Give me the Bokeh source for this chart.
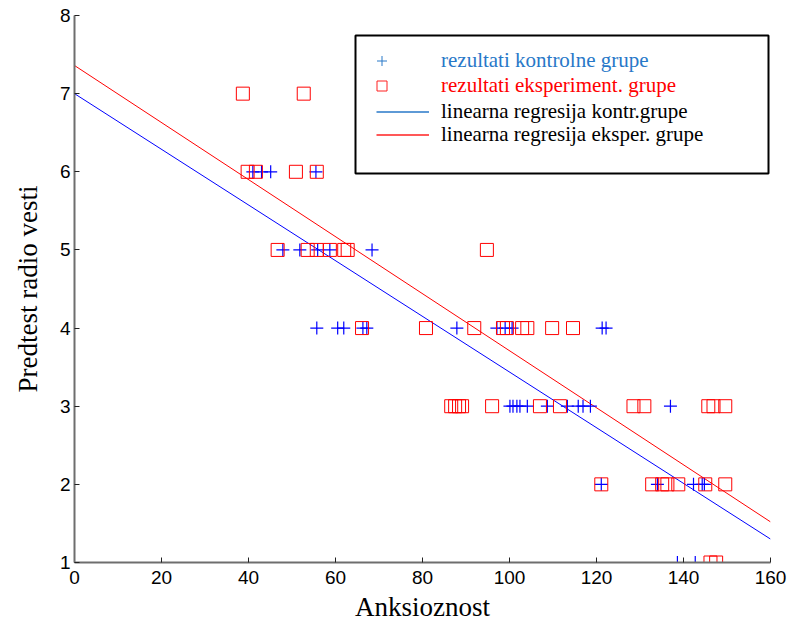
from bokeh.plotting import figure
from bokeh.models import Legend, LegendItem, BoxAnnotation, FixedTicker, Range1d
from bokeh.embed import file_html
from bokeh.resources import INLINE

# ---- data ----
ctrl_x = [41.0, 43.0, 45.1, 55.5,
          47.9, 51.8, 55.9, 58.7, 68.4,
          55.7, 60.5, 61.9, 66.3, 67.2, 87.9, 97.1, 99.0, 100.6, 121.3, 122.2,
          100.1, 100.8, 101.7, 102.4, 104.1, 108.7, 113.3, 115.8, 116.9, 118.6, 137.0,
          121.1, 134.0, 142.3, 144.3, 144.8,
          138.6, 142.7]
ctrl_y = [6, 6, 6, 6,
          5, 5, 5, 5, 5,
          4, 4, 4, 4, 4, 4, 4, 4, 4, 4, 4,
          3, 3, 3, 3, 3, 3, 3, 3, 3, 3, 3,
          2, 2, 2, 2, 2,
          1, 1]

exp_x = [38.7, 52.7,
         39.8, 41.7, 50.9, 55.7,
         46.7, 53.6, 55.7, 58.7, 62.0, 62.8, 94.8,
         66.1, 80.8, 91.9, 98.5, 99.4, 102.9, 104.1, 109.8, 114.6,
         86.6, 87.5, 88.4, 89.1, 96.0, 107.0, 111.6, 128.5, 131.0, 145.7, 146.9, 149.6,
         121.1, 132.8, 135.1, 136.3, 138.8, 145.0, 149.6,
         146.2, 147.5]
exp_y = [7, 7,
         6, 6, 6, 6,
         5, 5, 5, 5, 5, 5, 5,
         4, 4, 4, 4, 4, 4, 4, 4, 4,
         3, 3, 3, 3, 3, 3, 3, 3, 3, 3, 3, 3,
         2, 2, 2, 2, 2, 2, 2,
         1, 1]

reg_x = [0, 160]
reg_ctrl = [7.0, 1.30]
reg_exp = [7.36, 1.52]

x_ticks = [0, 20, 40, 60, 80, 100, 120, 140, 160]
y_ticks = [1, 2, 3, 4, 5, 6, 7, 8]

legend_labels = ["rezultati kontrolne grupe", "rezultati eksperiment. grupe",
                 "linearna regresija kontr.grupe", "linearna regresija eksper. grupe"]

# ---- figure ----
p = figure(width=789, height=624, output_backend="svg", toolbar_location=None,
           x_range=Range1d(0, 160), y_range=Range1d(1, 8),
           min_border_left=74, min_border_right=19, min_border_top=15, min_border_bottom=62,
           background_fill_color="white", border_fill_color="white")
p.outline_line_color = None
p.grid.visible = False

for ax in (p.xaxis[0], p.yaxis[0]):
    ax.axis_line_color = "#6e6e6e"
    ax.axis_line_width = 2
    ax.major_tick_in = 5
    ax.major_tick_out = 0
    ax.major_tick_line_color = "#222222"
    ax.minor_tick_line_color = None
    ax.major_label_text_font = "Liberation Sans"
    ax.major_label_text_font_size = "19px"
    ax.major_label_text_color = "black"
    ax.axis_label_text_font = "Liberation Serif"
    ax.axis_label_text_font_size = "27px"
    ax.axis_label_text_font_style = "normal"
    ax.axis_label_text_color = "black"

p.xaxis.ticker = FixedTicker(ticks=x_ticks)
p.yaxis.ticker = FixedTicker(ticks=y_ticks)
p.xaxis.major_label_standoff = 8
p.yaxis.major_label_standoff = 4
p.xaxis.axis_label = "Anksioznost"
p.yaxis.axis_label = "Predtest radio vesti"
p.xaxis.axis_label_standoff = 5
p.yaxis.axis_label_standoff = 14

# ---- data marks ----
p.line(reg_x, reg_ctrl, line_color="#0000ff", line_width=1)
p.line(reg_x, reg_exp, line_color="#ff0000", line_width=1)
p.scatter(ctrl_x, ctrl_y, marker="cross", size=13, line_color="#0000ff", line_width=1.2)
p.scatter(exp_x, exp_y, marker="square", size=13, fill_color=None, line_color="#ff0000", line_width=1)

# ---- legend (hidden proxy renderers in legend colours) ----
leg_blue = "#2878c8"
leg_red = "#ff2020"
px_c = p.scatter(ctrl_x, ctrl_y, marker="cross", line_color=leg_blue, line_width=1, visible=False)
px_e = p.scatter(exp_x, exp_y, marker="square", fill_color=None, line_color=leg_red, line_width=1, visible=False)
pl_c = p.line(reg_x, reg_ctrl, line_color=leg_blue, line_width=1.5, visible=False)
pl_e = p.line(reg_x, reg_exp, line_color=leg_red, line_width=1.5, visible=False)

box = BoxAnnotation(left=281, right=694, bottom=389, top=527,
                    left_units="screen", right_units="screen",
                    top_units="screen", bottom_units="screen",
                    fill_color="white", fill_alpha=1.0,
                    line_color="black", line_alpha=1.0, line_width=2)
p.add_layout(box)

entries = [
    (px_c, legend_labels[0], leg_blue, 295, 489, 25, 47),
    (px_e, legend_labels[1], "#ff0000", 295, 464, 25, 47),
    (pl_c, legend_labels[2], "black", 302, 438, 53, 12),
    (pl_e, legend_labels[3], "black", 302, 415, 53, 12),
]
for rend, lab, col, lx, ly, gw, so in entries:
    leg = Legend(items=[LegendItem(label=lab, renderers=[rend], index=0)],
                 location=(lx, ly), padding=0, margin=0, spacing=0,
                 border_line_color=None, background_fill_alpha=0,
                 inactive_fill_alpha=0,
                 label_text_font="Liberation Serif", label_text_font_size="21px",
                 label_text_color=col, glyph_width=gw, glyph_height=25,
                 label_height=25, label_standoff=so)
    p.add_layout(leg, "center")

open("out.html", "w").write(file_html(p, INLINE))
